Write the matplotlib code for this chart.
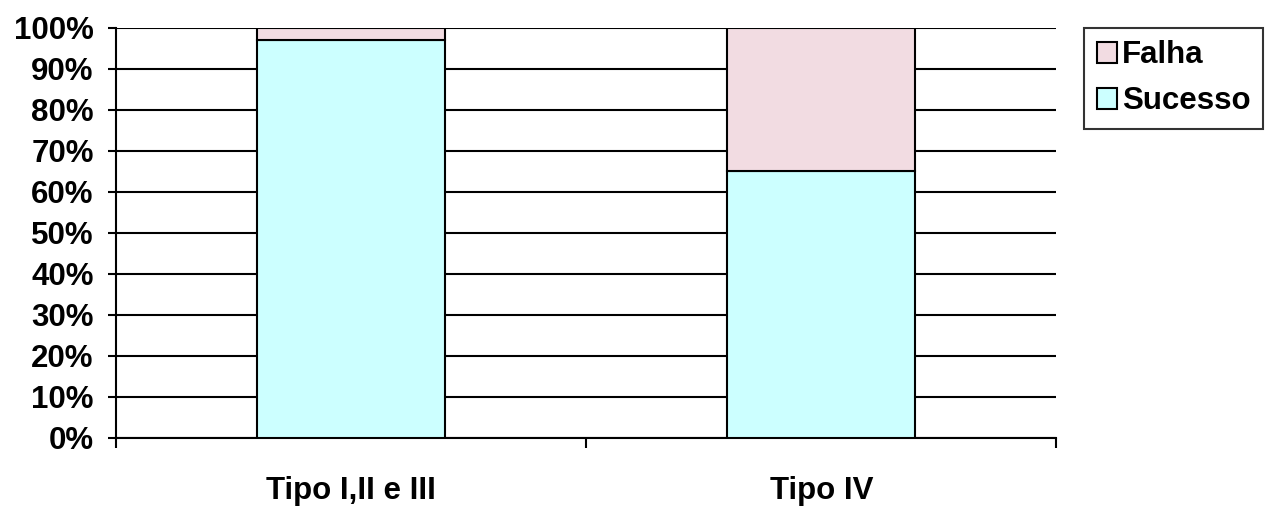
import matplotlib.pyplot as plt
from matplotlib.ticker import MultipleLocator, FuncFormatter

# share of outcomes per group, in percent
categories = ['Tipo I,II e III', 'Tipo IV']
sucesso = [97, 65]
falha = [3, 35]

plt.rcParams['font.family'] = ['Liberation Sans', 'DejaVu Sans']
plt.rcParams['font.weight'] = 'bold'

fig = plt.figure(figsize=(12.77, 5.08), dpi=100)
ax = fig.add_axes([0.0908, 0.1378, 0.7365, 0.8072])

x = range(len(categories))
ax.bar(x, sucesso, width=0.4, color='#CCFFFF', edgecolor='black', linewidth=1.5,
       label='Sucesso', zorder=3)
ax.bar(x, falha, width=0.4, bottom=sucesso, color='#F2DCE2', edgecolor='black',
       linewidth=1.5, label='Falha', zorder=3)

ax.set_xlim(-0.5, 1.5)
ax.set_ylim(0, 100)
ax.yaxis.set_major_locator(MultipleLocator(10))
ax.yaxis.set_major_formatter(FuncFormatter(lambda v, p: f'{v:.0f}%'))
ax.yaxis.grid(True, color='black', linewidth=1.5, zorder=0)
ax.set_axisbelow(True)

# x ticks sit on the category boundaries, labels in between
ax.set_xticks([-0.5, 0.5, 1.5])
ax.set_xticklabels([])
ax.set_xticks(list(x), minor=True)
ax.set_xticklabels(categories, minor=True, fontsize=22.5, fontweight='bold')
ax.tick_params(axis='x', which='minor', length=0, pad=27.5)
ax.tick_params(axis='x', which='major', length=7, width=1.5, direction='out')
ax.tick_params(axis='y', length=6, width=1.5, labelsize=22.5, pad=10)

for side in ['top', 'right']:
    ax.spines[side].set_visible(False)
for side in ['left', 'bottom']:
    ax.spines[side].set_linewidth(1.5)

handles, labels = ax.get_legend_handles_labels()
leg = fig.legend(handles[::-1], labels[::-1], loc='upper left',
                 bbox_to_anchor=(0.849, 0.945), fontsize=22.5, frameon=True,
                 fancybox=False, edgecolor='black', handlelength=0.65,
                 handleheight=0.65, handletextpad=0.16, borderpad=0.4,
                 labelspacing=0.5, borderaxespad=0)
leg.get_frame().set_linewidth(1.5)
for t in leg.get_texts():
    t.set_fontweight('bold')

fig.savefig('out.png', dpi=100)
